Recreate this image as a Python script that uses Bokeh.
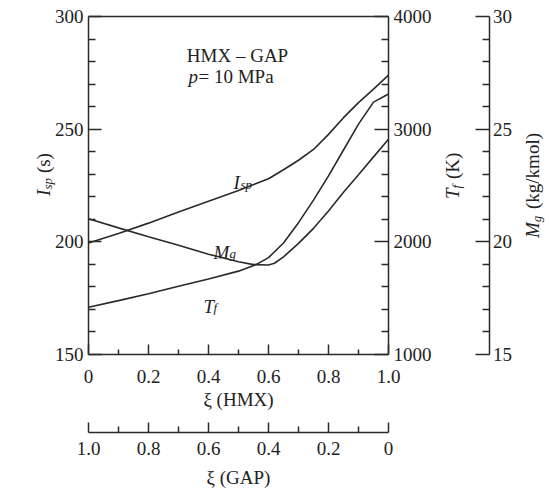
import math
from bokeh.plotting import figure
from bokeh.models import Range1d, LinearAxis, FixedTicker, Label
from bokeh.embed import file_html
from bokeh.resources import INLINE

# ---------------- data ----------------
xi_isp = [0, 0.1, 0.2, 0.3, 0.4, 0.5, 0.6, 0.65, 0.7, 0.75, 0.8, 0.85, 0.9, 0.95, 1.0]
isp = [199.5, 203.7, 208.3, 213.2, 218.0, 222.8, 228.0, 232.0, 236.2, 241.0, 247.7, 255.1, 261.8, 267.8, 274.0]

xi_tf = [0, 0.1, 0.2, 0.3, 0.4, 0.5, 0.56, 0.6, 0.65, 0.7, 0.75, 0.8, 0.85, 0.9, 0.95, 1.0]
tf = [1420, 1478, 1540, 1605, 1670, 1740, 1800, 1860, 1990, 2170, 2370, 2585, 2815, 3045, 3240, 3312]

xi_mg = [0, 0.1, 0.2, 0.3, 0.4, 0.5, 0.55, 0.6, 0.62, 0.65, 0.7, 0.75, 0.8, 0.85, 0.9, 0.95, 1.0]
mg = [21.02, 20.62, 20.23, 19.85, 19.45, 19.12, 18.99, 18.97, 19.05, 19.33, 19.93, 20.6, 21.37, 22.2, 22.98, 23.77, 24.55]

hmx_ticks = [0, 0.2, 0.4, 0.6, 0.8, 1.0]
hmx_labels = ["0", "0.2", "0.4", "0.6", "0.8", "1.0"]
hmx_minor = [0.1, 0.3, 0.5, 0.7, 0.9]
gap_ticks = [1.0, 0.8, 0.6, 0.4, 0.2, 0]
gap_labels = ["1.0", "0.8", "0.6", "0.4", "0.2", "0"]
isp_ticks = [150, 200, 250, 300]
isp_minor = [160, 170, 180, 190, 210, 220, 230, 240, 260, 270, 280, 290]
tf_ticks = [1000, 2000, 3000, 4000]
tf_minor = [1200, 1400, 1600, 1800, 2200, 2400, 2600, 2800, 3200, 3400, 3600, 3800]
mg_ticks = [15, 20, 25, 30]
mg_minor = [16, 17, 18, 19, 21, 22, 23, 24, 26, 27, 28, 29]

FONT = "Liberation Serif"
TC = "#222222"
LC = "#2a2a2a"
FS = "19px"

# ---------------- layout: canvas = whole window, plot box in pixels ----------------
W, H = 549, 489
BOX_L, BOX_R, BOX_T, BOX_B = 88, 388, 16, 354   # plot box (pixels)


def span(lo, hi, a, b, size):
    """data range covering pixels 0..size when pixel a -> lo and pixel b -> hi"""
    k = (hi - lo) / (b - a)
    return lo - a * k, lo + (size - a) * k


x0, x1 = span(0, 1, BOX_L, BOX_R, W)
yb, yt = span(150, 300, H - BOX_B, H - BOX_T, H)
tb, tt = span(1000, 4000, H - BOX_B, H - BOX_T, H)
mb, mt = span(15, 30, H - BOX_B, H - BOX_T, H)


def x_at(px):
    return x0 + (x1 - x0) * px / W


def y_at(py):
    return yb + (yt - yb) * (H - py) / H


p = figure(width=W, height=H, x_range=Range1d(x0, x1), y_range=Range1d(yb, yt),
           x_axis_location=None, y_axis_location=None,
           output_backend="svg", toolbar_location=None, min_border=0)
p.extra_y_ranges = {"tf": Range1d(tb, tt), "mg": Range1d(mb, mt)}
p.extra_x_ranges = {"gap": Range1d(1 - x0, 1 - x1)}
p.grid.visible = False
p.outline_line_color = None
p.background_fill_color = "white"
p.border_fill_color = "white"


def style_axis(ax, ticks, minor, labels, t_in, m_in, standoff):
    ax.ticker = FixedTicker(ticks=ticks, minor_ticks=minor)
    if labels is not None:
        ax.major_label_overrides = dict(zip(ticks, labels))
    ax.major_tick_in = t_in
    ax.major_tick_out = 0
    ax.minor_tick_in = m_in
    ax.minor_tick_out = 0
    ax.axis_line_color = LC
    ax.axis_line_width = 1.5
    ax.major_tick_line_color = LC
    ax.major_tick_line_width = 1.5
    ax.minor_tick_line_color = LC
    ax.minor_tick_line_width = 1.5
    ax.major_label_text_font = FONT
    ax.major_label_text_font_size = FS
    ax.major_label_text_color = TC
    ax.major_label_standoff = standoff
    ax.axis_label_text_font = FONT
    ax.axis_label_text_font_size = FS
    ax.axis_label_text_color = TC
    ax.axis_label_text_font_style = "normal"


# left Isp axis
la = LinearAxis(fixed_location=0, bounds=(150, 300))
style_axis(la, isp_ticks, isp_minor, None, 13, 7, 5)
p.add_layout(la, "left")

# bottom HMX axis
bx = LinearAxis(fixed_location=150, bounds=(0, 1))
style_axis(bx, hmx_ticks, hmx_minor, hmx_labels, 10, 5, 15)
bx.axis_label = "ξ (HMX)"
bx.axis_label_standoff = 3
p.add_layout(bx, "below")

# GAP axis (reversed), lower
gx = LinearAxis(x_range_name="gap", fixed_location=y_at(432), bounds=(0, 1))
style_axis(gx, gap_ticks, hmx_minor, gap_labels, 10, 6, 9)
gx.axis_label = "ξ (GAP)"
gx.axis_label_standoff = 9
p.add_layout(gx, "below")

# top frame line
top = LinearAxis(fixed_location=300, bounds=(0, 1), ticker=FixedTicker(ticks=[]),
                 axis_line_color=LC, axis_line_width=1.5,
                 major_tick_line_color=None, minor_tick_line_color=None)
p.add_layout(top, "above")

# Tf axis (right side of the box)
tax = LinearAxis(y_range_name="tf", fixed_location=1, bounds=(1000, 4000))
style_axis(tax, tf_ticks, tf_minor, None, 14, 7, 5)
p.add_layout(tax, "right")

# Mg axis (far right)
max_ = LinearAxis(y_range_name="mg", fixed_location=x_at(488.5), bounds=(15, 30))
style_axis(max_, mg_ticks, mg_minor, None, 14, 7, 4)
p.add_layout(max_, "right")

# curves
p.line(xi_isp, isp, line_color=LC, line_width=1.6)
p.line(xi_tf, tf, y_range_name="tf", line_color=LC, line_width=1.6)
p.line(xi_mg, mg, y_range_name="mg", line_color=LC, line_width=1.6)


def lab(px, py, text, size=19, italic=False, angle=0.0, align="left"):
    """label at page pixel (px, py) = left/centre of its baseline"""
    p.add_layout(Label(x=px, y=H - py, x_units="screen", y_units="screen", text=text,
                       text_font=FONT, text_font_size=f"{size}px",
                       text_font_style="italic" if italic else "normal",
                       text_color=TC, angle=angle, text_align=align,
                       text_baseline="alphabetic"))


# in-plot annotations
lab(237, 55, "HMX – GAP", align="center")
lab(188, 76, "p", italic=True)
lab(198, 76, "= 10 MPa")
lab(233, 182, "I", italic=True)
lab(240, 184, "sp", size=13, italic=True)
lab(213, 252, "M", italic=True)
lab(229, 253, "g", size=13, italic=True)
lab(203, 306, "T", italic=True)
lab(213, 307, "f", size=13, italic=True)

# rotated axis titles with subscripts (read bottom to top)
R = math.pi / 2
lab(43, 195.5, "I", italic=True, angle=R)
lab(47, 189.0, "sp", size=13, italic=True, angle=R)
lab(43, 172.6, "(s)", angle=R)

lab(452, 198.5, "T", italic=True, angle=R)
lab(456, 187.9, "f", size=13, italic=True, angle=R)
lab(452, 178.5, "(K)", angle=R)

lab(532, 237.5, "M", italic=True, angle=R)
lab(536, 221.7, "g", size=13, italic=True, angle=R)
lab(532, 208.5, "(kg/kmol)", angle=R)

open("out.html", "w").write(file_html(p, INLINE))
